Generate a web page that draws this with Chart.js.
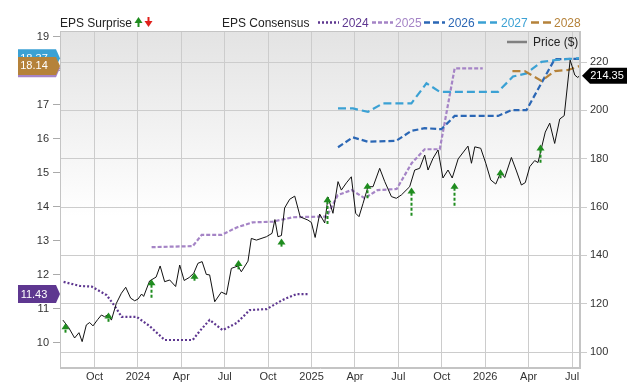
<!DOCTYPE html>
<html><head><meta charset="utf-8">
<script src="https://cdn.jsdelivr.net/npm/chart.js@4.4.1/dist/chart.umd.min.js"></script>
<style>html,body{margin:0;padding:0;background:#fff;}#wrap{width:640px;height:382px;}</style>
</head><body><div id="wrap"><canvas id="c" width="640" height="382"></canvas></div>
<script>
// x values are months counted from Jan 2023 (9 = Oct 2023, 12 = Jan 2024 ...)
const xTickValues = [9,12,15,18,21,24,27,30,33,36,39,42];
const xTickLabels = ['Oct','2024','Apr','Jul','Oct','2025','Apr','Jul','Oct','2026','Apr','Jul'];
const epsTicks = [10,11,12,13,14,15,16,17,18,19];
const priceTicks = [100,120,140,160,180,200,220];

const priceMonths = [6.82,7.22,7.63,7.93,8.15,8.44,8.67,8.90,9.22,9.48,
 9.70,9.95,10.17,10.51,10.86,11.16,11.50,11.78,12.01,12.26,
 12.40,12.81,13.26,13.54,13.85,14.20,14.61,14.89,15.20,15.54,
 15.86,16.15,16.44,16.73,16.96,17.31,17.77,18.12,18.46,18.92,
 19.15,19.61,19.84,20.19,20.88,21.27,21.47,21.68,21.92,22.14,
 22.49,22.84,23.22,23.75,23.99,24.25,24.56,24.91,25.14,25.48,
 25.83,26.06,26.41,26.75,27.05,27.28,27.56,27.90,28.25,28.71,
 29.06,29.52,29.86,30.21,30.78,31.13,31.47,31.82,32.05,32.39,
 32.74,33.08,33.43,33.72,34.13,34.81,35.05,35.28,35.69,36.04,
 36.38,36.73,37.07,37.35,37.81,38.16,38.50,38.77,39.08,39.42,
 39.65,40.15,40.46,40.80,41.15,41.46,41.87,42.19,42.39,42.53];
const priceValues = [113.2,110.1,105.8,108.0,104.3,111.2,112.2,110.8,113.4,115.3,
 114.6,115.5,113.2,120.1,124.3,126.8,122.3,121.2,121.9,124.0,
 123.0,129.4,131.0,135.6,129.1,129.8,127.1,136.0,129.6,130.8,
 132.6,136.7,137.4,132.1,131.9,120.8,124.8,123.8,134.6,135.6,
 133.2,137.6,147.0,146.3,147.7,149.1,154.8,147.7,148.2,159.6,
 163.2,164.5,155.9,154.6,153.6,147.4,157.1,153.4,164.1,157.4,
 170.5,167.0,170.0,172.5,157.4,156.0,161.5,168.4,168.4,176.0,
 170.5,164.3,163.6,165.0,168.4,175.3,176.0,181.5,175.3,180.1,
 183.6,172.0,175.3,172.0,179.9,185.2,178.1,184.9,184.3,178.1,
 171.2,169.5,174.3,172.2,180.5,174.9,169.1,170.1,176.7,179.2,
 178.4,191.0,194.7,186.3,196.4,197.8,220.8,214.6,213.6,214.35];

const eps2024Months = [6.87,7.98,8.81,9.84,10.40,10.88,11.92,12.81,13.85,15.79,16.27,16.96,17.86,18.83,19.73,20.90,22.01,22.97,23.73];
const eps2024Values = [11.79,11.67,11.65,11.40,11.08,10.76,10.76,10.49,10.08,10.08,10.34,10.67,10.37,10.58,10.96,10.99,11.26,11.43,11.43];

const eps2025Months = [12.95,15.79,16.41,17.79,18.83,19.93,21.32,22.70,24.77,25.05,25.81,26.77,27.67,28.57,29.88,30.92,31.82,32.86,33.89,35.83];
const eps2025Values = [12.81,12.84,13.17,13.17,13.39,13.54,13.56,13.69,13.71,13.71,14.34,14.49,14.25,14.49,14.52,15.28,15.69,15.69,18.07,18.07];

const eps2026Months = [25.83,26.86,27.90,29.86,30.90,31.82,32.97,33.89,36.89,37.81,38.85,40.80,42.53];
const eps2026Values = [15.75,16.04,15.91,15.94,16.23,16.31,16.28,16.67,16.67,16.84,16.84,18.34,18.35];

const eps2027Months = [25.83,26.86,27.90,28.94,30.90,31.94,32.86,36.89,37.92,38.85,39.89,40.80,42.53];
const eps2027Values = [16.89,16.89,16.79,17.04,17.04,17.63,17.38,17.38,17.83,17.92,18.26,18.31,18.37];

const eps2028Months = [37.88,38.73,39.89,40.80,41.72,42.53];
const eps2028Values = [17.99,17.99,17.70,17.99,18.02,18.14];

const surpriseMonths = [6.94,9.93,12.93,15.88,18.92,21.87,25.07,27.86,30.85,33.82,37.00,39.77];
const surpriseFrom = [108.0,112.5,122.5,129.5,134.2,143.6,153.0,163.6,156.4,160.5,171.9,178.3];
const surpriseTo = [111.9,116.3,130.1,132.8,138.1,147.0,164.5,170.0,168.1,170.0,175.6,185.9];

const C2024 = '#5e3790', C2025 = '#a584c6', C2026 = '#2b67b5', C2027 = '#3ba1d4', C2028 = '#b5823a';
const FONT = "'Liberation Sans', Arial, Helvetica, sans-serif";

function pts(xs, ys){ return xs.map((x,i)=>({x:x, y:ys[i]})); }
function last(a){ return a[a.length-1]; }

Chart.defaults.font.family = FONT;
Chart.defaults.font.size = 11;
Chart.defaults.color = '#333';

const bgPlugin = {
  id:'bg',
  beforeDraw(chart){
    const {ctx, chartArea:a} = chart;
    const g = ctx.createLinearGradient(0, a.top, 0, a.bottom);
    g.addColorStop(0, '#e3e3e3');
    g.addColorStop(0.55, '#ffffff');
    g.addColorStop(1, '#ffffff');
    ctx.save(); ctx.fillStyle = g;
    ctx.fillRect(a.left, a.top, a.right-a.left, a.bottom-a.top);
    ctx.restore();
  }
};

function drawArrow(ctx, x, yTip, yBase, color, up, dashed){
  ctx.save();
  ctx.strokeStyle = color; ctx.fillStyle = color; ctx.lineWidth = 2;
  ctx.setLineDash(dashed ? [3,2] : []);
  const dir = up ? 1 : -1;
  ctx.beginPath(); ctx.moveTo(x, yBase); ctx.lineTo(x, yTip + dir*5); ctx.stroke();
  ctx.setLineDash([]);
  ctx.beginPath(); ctx.moveTo(x, yTip); ctx.lineTo(x-4, yTip + dir*6); ctx.lineTo(x+4, yTip + dir*6); ctx.closePath(); ctx.fill();
  ctx.restore();
}

const arrowPlugin = {
  id:'arrows',
  afterDatasetsDraw(chart){
    const {ctx, scales:{x, yR}} = chart;
    surpriseMonths.forEach((m,i)=>{
      const px = Math.round(x.getPixelForValue(m)) + 0.5;
      drawArrow(ctx, px, yR.getPixelForValue(surpriseTo[i]), yR.getPixelForValue(surpriseFrom[i]), '#1f8c1f', surpriseTo[i] >= surpriseFrom[i], true);
    });
  }
};

function leftTag(ctx, y, color, text){
  ctx.save();
  ctx.fillStyle = color;
  ctx.beginPath();
  ctx.moveTo(18, y-9); ctx.lineTo(56, y-9); ctx.lineTo(60, y); ctx.lineTo(56, y+9); ctx.lineTo(18, y+9); ctx.closePath(); ctx.fill();
  ctx.fillStyle = '#fff'; ctx.font = '11px ' + FONT; ctx.textAlign = 'center'; ctx.textBaseline = 'middle';
  ctx.fillText(text, 34, y+0.5);
  ctx.restore();
}

const overlayPlugin = {
  id:'overlay',
  afterDraw(chart){
    const {ctx, chartArea:a, scales:{yL, yR}} = chart;
    // plot frame
    ctx.save(); ctx.strokeStyle = '#c4c4c4'; ctx.lineWidth = 1;
    ctx.strokeRect(a.left+0.5, a.top+0.5, a.right-a.left-1, a.bottom-a.top-1); ctx.restore();

    // left value tags
    leftTag(ctx, yL.getPixelForValue(last(eps2027Values)), C2027, last(eps2027Values).toFixed(2));
    leftTag(ctx, yL.getPixelForValue(last(eps2025Values)), C2025, last(eps2025Values).toFixed(2));
    leftTag(ctx, yL.getPixelForValue(last(eps2028Values)), C2028, last(eps2028Values).toFixed(2));
    leftTag(ctx, yL.getPixelForValue(last(eps2024Values)), C2024, last(eps2024Values).toFixed(2));

    // right price tag
    const py = yR.getPixelForValue(last(priceValues));
    ctx.save(); ctx.fillStyle = '#000';
    ctx.beginPath(); ctx.moveTo(582, py); ctx.lineTo(590, py-8); ctx.lineTo(627, py-8); ctx.lineTo(627, py+8); ctx.lineTo(590, py+8); ctx.closePath(); ctx.fill();
    ctx.fillStyle = '#fff'; ctx.font = '11px ' + FONT; ctx.textAlign = 'center'; ctx.textBaseline = 'middle';
    ctx.fillText(last(priceValues).toFixed(2), 607, py+0.5);
    ctx.restore();

    // top legend
    ctx.save();
    ctx.font = '12px ' + FONT; ctx.textBaseline = 'alphabetic'; ctx.textAlign = 'left';
    ctx.fillStyle = '#222';
    ctx.fillText('EPS Surprise', 60, 27);
    drawArrow(ctx, 138.5, 17, 27, '#1f8c1f', true, false);
    drawArrow(ctx, 148.5, 27, 17, '#e0201b', false, false);
    ctx.fillText('EPS Consensus', 222, 27);
    const items = [
      ['2024', C2024, [2,2], 318, 339, 342],
      ['2025', C2025, [4,2], 372, 393, 395],
      ['2026', C2026, [6,3], 424, 445, 448],
      ['2027', C2027, [8,4], 478, 497, 501],
      ['2028', C2028, [8,4], 531, 551, 554]
    ];
    items.forEach(it=>{
      ctx.strokeStyle = it[1]; ctx.lineWidth = 2.5; ctx.setLineDash(it[2]);
      ctx.beginPath(); ctx.moveTo(it[3], 22.5); ctx.lineTo(it[4], 22.5); ctx.stroke();
      ctx.setLineDash([]);
      ctx.fillStyle = it[1]; ctx.fillText(it[0], it[5], 27);
    });
    // price legend inside plot
    ctx.strokeStyle = '#808080'; ctx.lineWidth = 2.5;
    ctx.beginPath(); ctx.moveTo(507, 42); ctx.lineTo(527, 42); ctx.stroke();
    ctx.fillStyle = '#222'; ctx.fillText('Price ($)', 533, 46);
    ctx.restore();
  }
};

new Chart(document.getElementById('c'), {
  type: 'line',
  data: {
    datasets: [
      {label:'Price ($)', data: pts(priceMonths, priceValues), yAxisID:'yR', borderColor:'#111', borderWidth:1, pointRadius:0, tension:0, order:0},
      {label:'2024', data: pts(eps2024Months, eps2024Values), yAxisID:'yL', borderColor:C2024, borderWidth:2.2, borderDash:[2,2], pointRadius:0, order:5},
      {label:'2025', data: pts(eps2025Months, eps2025Values), yAxisID:'yL', borderColor:C2025, borderWidth:2.2, borderDash:[4,2], pointRadius:0, order:4},
      {label:'2026', data: pts(eps2026Months, eps2026Values), yAxisID:'yL', borderColor:C2026, borderWidth:2.2, borderDash:[6,3], pointRadius:0, order:3},
      {label:'2027', data: pts(eps2027Months, eps2027Values), yAxisID:'yL', borderColor:C2027, borderWidth:2.2, borderDash:[8,4], pointRadius:0, order:2},
      {label:'2028', data: pts(eps2028Months, eps2028Values), yAxisID:'yL', borderColor:C2028, borderWidth:2.2, borderDash:[8,4], pointRadius:0, order:1}
    ]
  },
  options: {
    responsive:false, animation:false, devicePixelRatio:1,
    layout:{padding:{top:31, left:0, right:0, bottom:0}},
    plugins:{legend:{display:false}, tooltip:{enabled:false}},
    scales:{
      x:{
        type:'linear', min:6.62, max:42.55,
        afterBuildTicks(s){ s.ticks = xTickValues.map(v=>({value:v})); },
        afterFit(s){ s.height = 14; },
        ticks:{autoSkip:false, maxRotation:0, padding:2, color:'#333', font:{size:11},
          callback(v){ const i = xTickValues.indexOf(v); return i >= 0 ? xTickLabels[i] : ''; }},
        grid:{color:'#cccccc', drawTicks:false},
        border:{color:'#c4c4c4'}
      },
      yL:{
        type:'linear', position:'left', min:9.256, max:19.168,
        afterBuildTicks(s){ s.ticks = epsTicks.map(v=>({value:v})); },
        afterFit(s){ s.width = 60; },
        ticks:{padding:4, color:'#333', font:{size:11}, callback(v){ return String(v); }},
        grid:{drawOnChartArea:false, drawTicks:true, tickLength:7, color:'#aaaaaa'},
        border:{color:'#c4c4c4'}
      },
      yR:{
        type:'linear', position:'right', min:93.38, max:232.83,
        afterBuildTicks(s){ s.ticks = priceTicks.map(v=>({value:v})); },
        afterFit(s){ s.width = 60; },
        ticks:{padding:3, color:'#333', font:{size:11}, callback(v){ return String(v); }},
        grid:{color:'#cccccc', tickLength:7},
        border:{color:'#c4c4c4'}
      }
    }
  },
  plugins:[bgPlugin, arrowPlugin, overlayPlugin]
});
</script>
</body></html>
